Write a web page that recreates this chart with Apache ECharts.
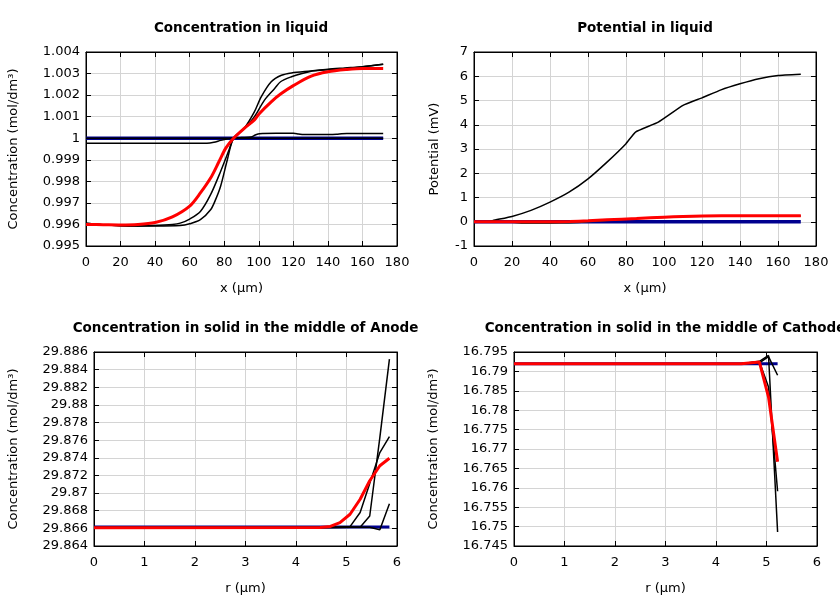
<!DOCTYPE html>
<html><head><meta charset="utf-8">
<script src="https://cdn.jsdelivr.net/npm/echarts@6/dist/echarts.min.js"></script>
<style>html,body{margin:0;padding:0;background:#fff}#c{width:840px;height:600px}</style>
</head><body><div id="c"></div>
<script>
// ---------- Panel 1: Concentration in liquid ----------
const liqBlueX = [0, 172];
const liqBlueY = [1.0, 1.0];
const liqFlatX = [0, 40, 70, 74, 78, 82, 85, 90, 95.6, 98, 100.4, 110, 120, 123, 126, 140, 145, 148, 151, 172];
const liqFlatY = [0.99977, 0.99977, 0.99977, 0.99981, 0.9999, 0.99997, 1.0, 1.00003, 1.00006, 1.00015, 1.00021, 1.00023, 1.00023, 1.0002, 1.00017, 1.00017, 1.00018, 1.00021, 1.00022, 1.00022];
const liqSteepX = [0, 10, 20, 30, 40, 54.5, 60, 66.2, 72.1, 75, 77.9, 81.8, 85.4, 91.6, 97.5, 101.4, 107.2, 113.1, 118.9, 130, 140, 150, 160, 172];
const liqSteepY = [0.99605, 0.99598, 0.99594, 0.99593, 0.99593, 0.99595, 0.99603, 0.99622, 0.99668, 0.99715, 0.99777, 0.999, 1.0, 1.00046, 1.00123, 1.00192, 1.00262, 1.00292, 1.00303, 1.00312, 1.0032, 1.00326, 1.00332, 1.00343];
const liqMedX = [0, 10, 20, 30, 40, 50, 54.5, 60, 66.2, 72.1, 77.9, 82.8, 85.4, 91.6, 97.5, 103.3, 109.2, 112.6, 118.9, 125, 132, 140, 150, 160, 172];
const liqMedY = [0.99605, 0.99598, 0.99594, 0.99593, 0.99595, 0.99600, 0.99606, 0.99625, 0.9966, 0.99738, 0.99846, 0.99946, 1.0, 1.00046, 1.001, 1.00177, 1.00231, 1.00262, 1.00285, 1.003, 1.00313, 1.00318, 1.00324, 1.00332, 1.00343];
const liqRedX = [0, 10, 20, 30, 40, 50, 60, 66.2, 72.1, 77, 80.9, 85.4, 91.6, 97.5, 100.4, 107.2, 112.6, 120, 130, 140, 151, 160, 172];
const liqRedY = [0.99600, 0.99599, 0.99598, 0.99600, 0.99609, 0.99635, 0.99685, 0.99746, 0.99815, 0.99892, 0.99954, 1.0, 1.00046, 1.00085, 1.00115, 1.00169, 1.00205, 1.00244, 1.00287, 1.00308, 1.00319, 1.00324, 1.00324];

// ---------- Panel 2: Potential in liquid ----------
const potBlueX = [0, 172];
const potBlueY = [0, 0];
const potBlackX = [0, 8, 10, 20, 30, 40, 50, 60, 70, 80, 85, 97, 110, 120, 130, 140, 150, 160, 172];
const potBlackY = [0, 0, 0.05, 0.22, 0.47, 0.81, 1.22, 1.77, 2.46, 3.22, 3.7, 4.11, 4.8, 5.11, 5.44, 5.69, 5.9, 6.03, 6.08];
const potLowX = [0, 20, 26, 40, 50, 60, 70, 85.6, 100, 120, 140, 172];
const potLowY = [0, -0.02, -0.06, -0.06, -0.05, 0.0, 0.05, 0.13, 0.19, 0.23, 0.24, 0.24];
const potRedX = [0, 20, 40, 50.5, 60, 70, 85.6, 100, 110, 120.5, 140, 160, 172];
const potRedY = [0, 0, 0, 0.01, 0.04, 0.08, 0.13, 0.19, 0.22, 0.24, 0.25, 0.25, 0.25];

// ---------- Panel 3: Anode solid ----------
const anX = [0, 4.48, 4.68, 4.87, 5.07, 5.27, 5.46, 5.66, 5.85];
const anBlue = [29.86615, 29.86615, 29.86615, 29.86615, 29.86615, 29.86615, 29.86615, 29.86615, 29.86615];
const anSteep = [29.86610, 29.86610, 29.86610, 29.86612, 29.86615, 29.86612, 29.86740, 29.87630, 29.88520];
const anMed = [29.86610, 29.86610, 29.86612, 29.86615, 29.86620, 29.86780, 29.87110, 29.87460, 29.87640];
const anLow = [29.86610, 29.86610, 29.86610, 29.86610, 29.86612, 29.86612, 29.86612, 29.86585, 29.86880];
const anRed = [29.86608, 29.86610, 29.86622, 29.86665, 29.86760, 29.86930, 29.87140, 29.87310, 29.87395];

// ---------- Panel 4: Cathode solid ----------
const caX = [0, 4.5, 4.86, 5.04, 5.22];
const caBlue = [16.7920, 16.7920, 16.7920, 16.7920, 16.7920];
const caB1 = [16.7920, 16.7920, 16.7926, 16.7941, 16.7486];
const caB2 = [16.7920, 16.7920, 16.7925, 16.7860, 16.7591];
const caB3 = [16.7920, 16.7920, 16.7922, 16.7938, 16.7890];
const caRed = [16.7920, 16.7920, 16.7924, 16.7834, 16.7667];

// ---------- Titles / labels ----------
const titles = ['Concentration in liquid', 'Potential in liquid', 'Concentration in solid in the middle of Anode', 'Concentration in solid in the middle of Cathode'];
const xNames = ['x (\u03bcm)', 'x (\u03bcm)', 'r (\u03bcm)', 'r (\u03bcm)'];
const yNames = ['Concentration (mol/dm\u00b3)', 'Potential (mV)', 'Concentration (mol/dm\u00b3)', 'Concentration (mol/dm\u00b3)'];

const FONT = 'DejaVu Sans';
const grids = [
  {left: 86, top: 52, width: 311, height: 194},
  {left: 474, top: 52, width: 342, height: 194},
  {left: 94, top: 352, width: 303, height: 194},
  {left: 514, top: 352, width: 303, height: 194}
];
const xr = [[0, 180, 20], [0, 180, 20], [0, 6, 1], [0, 6, 1]];
const yr = [[0.995, 1.004, 0.001], [-1, 7, 1], [29.864, 29.886, 0.002], [16.745, 16.795, 0.005]];
const yGaps = [66, 33, 74, 74];
const smoothOn = [0.3, 0.12, false, false];

function zip(xs, ys) { return xs.map((x, i) => [x, ys[i]]); }

const xAxes = [], yAxes = [];
grids.forEach((g, i) => {
  const common = {
    gridIndex: i, type: 'value',
    axisLine: {show: true, onZero: false, lineStyle: {color: '#000', width: 1}},
    axisTick: {show: true, inside: true, length: 5, lineStyle: {color: '#000'}},
  };
  xAxes.push(Object.assign({}, common, {
    position: 'bottom', min: xr[i][0], max: xr[i][1], interval: xr[i][2],
    name: xNames[i], nameLocation: 'middle', nameGap: 36,
    nameTextStyle: {fontFamily: FONT, fontSize: 13, color: '#000'},
    axisLabel: {fontFamily: FONT, fontSize: 13, color: '#000', margin: 10},
    splitLine: {show: true, lineStyle: {color: '#d4d4d4', width: 1}}
  }));
  xAxes.push(Object.assign({}, common, {
    position: 'top', min: xr[i][0], max: xr[i][1], interval: xr[i][2],
    axisLabel: {show: false}, splitLine: {show: false}
  }));
  yAxes.push(Object.assign({}, common, {
    position: 'left', min: yr[i][0], max: yr[i][1], interval: yr[i][2],
    name: yNames[i], nameLocation: 'middle', nameGap: yGaps[i],
    nameTextStyle: {fontFamily: FONT, fontSize: 13, color: '#000'},
    axisLabel: {fontFamily: FONT, fontSize: 13, color: '#000', margin: 6},
    splitLine: {show: true, lineStyle: {color: '#d4d4d4', width: 1}}
  }));
  yAxes.push(Object.assign({}, common, {
    position: 'right', min: yr[i][0], max: yr[i][1], interval: yr[i][2],
    axisLabel: {show: false}, splitLine: {show: false}
  }));
});

function line(gi, data, color, width, z) {
  return {type: 'line', xAxisIndex: gi * 2, yAxisIndex: gi * 2, data: data,
    showSymbol: false, symbol: 'none', smooth: smoothOn[gi],
    animation: false, z: z, lineStyle: {color: color, width: width}};
}
const BLUE = '#00008f', RED = '#ff0000', BLACK = '#000000';
const series = [
  line(0, zip(liqBlueX, liqBlueY), BLUE, 3.5, 2),
  line(0, zip(liqBlueX, liqBlueY), BLACK, 1.5, 3),
  line(0, zip(liqFlatX, liqFlatY), BLACK, 1.5, 3),
  line(0, zip(liqSteepX, liqSteepY), BLACK, 1.5, 3),
  line(0, zip(liqMedX, liqMedY), BLACK, 1.5, 3),
  line(0, zip(liqRedX, liqRedY), RED, 3, 4),

  line(1, zip(potBlueX, potBlueY), BLUE, 3.5, 2),
  line(1, zip(potLowX, potLowY), '#333', 1.5, 3),
  line(1, zip(potBlackX, potBlackY), BLACK, 1.5, 3),
  line(1, zip(potRedX, potRedY), RED, 3, 4),

  line(2, zip(anX, anBlue), BLUE, 3, 2),
  line(2, zip(anX, anSteep), BLACK, 1.5, 3),
  line(2, zip(anX, anMed), BLACK, 1.5, 3),
  line(2, zip(anX, anLow), BLACK, 1.5, 3),
  line(2, zip(anX, anRed), RED, 3, 4),

  line(3, zip(caX, caBlue), BLUE, 3, 2),
  line(3, zip(caX, caB1), BLACK, 1.5, 3),
  line(3, zip(caX, caB2), BLACK, 1.5, 3),
  line(3, zip(caX, caB3), BLACK, 1.5, 3),
  line(3, zip(caX, caRed), RED, 3, 4)
];

const centers = [236, 640, 240.5, 660];
const tops = [16, 16, 316, 316];
const option = {
  backgroundColor: '#fff',
  animation: false,
  title: titles.map((t, i) => ({text: t, left: centers[i], top: tops[i], textAlign: 'center',
    textStyle: {fontFamily: FONT, fontSize: 13.5, fontWeight: 'bold', color: '#000'}})),
  grid: grids.map(g => Object.assign({show: true, borderColor: '#000', borderWidth: 1, backgroundColor: 'transparent'}, g)),
  xAxis: xAxes,
  yAxis: yAxes,
  series: series
};
const chart = echarts.init(document.getElementById('c'), null, {renderer: 'canvas'});
chart.setOption(option);
</script></body></html>
